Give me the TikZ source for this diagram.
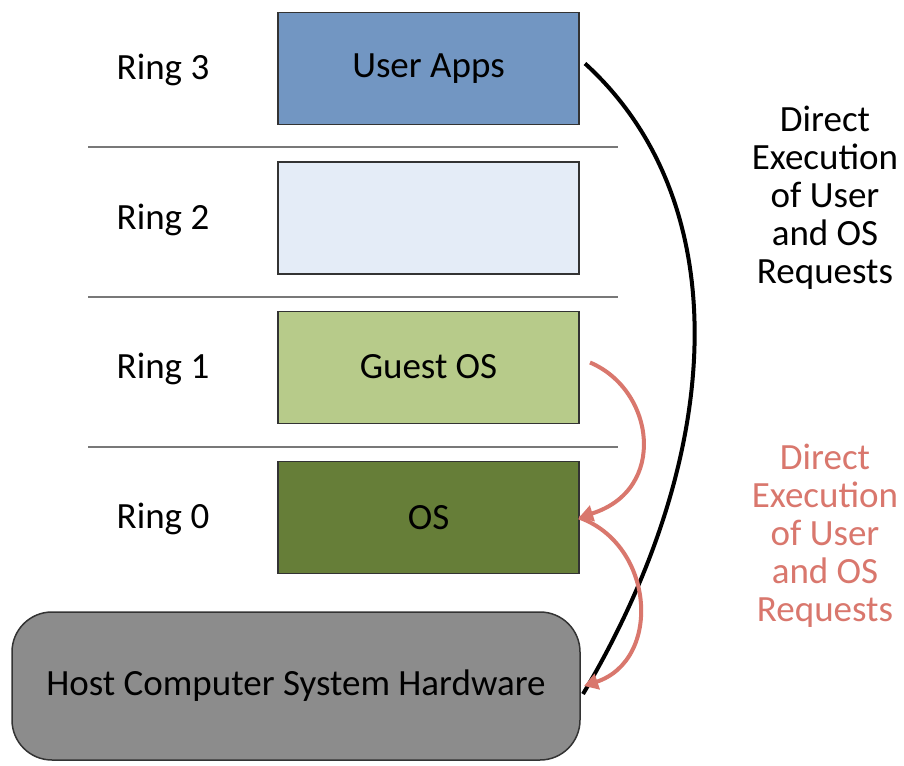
\documentclass[tikz,border=0pt]{standalone}
\usepackage{fontspec}
\setmainfont{Carlito}
\usetikzlibrary{arrows.meta}
\definecolor{appblue}{RGB}{114,150,194}
\definecolor{ringtwo}{RGB}{228,236,247}
\definecolor{guestgreen}{RGB}{183,203,138}
\definecolor{osgreen}{RGB}{102,126,56}
\definecolor{hwgray}{RGB}{140,140,140}
\definecolor{sepgray}{RGB}{120,120,120}
\definecolor{redarrow}{RGB}{217,119,109}
\tikzset{
  ringbox/.style={draw=black!80, line width=1.5pt, minimum width=301pt, minimum height=112pt, inner sep=0pt, outer sep=0pt},
  ringlabel/.style={inner sep=0pt},
  sepline/.style={draw=sepgray, line width=1.8pt},
  blackcurve/.style={draw=black, line width=4pt},
  redcurve/.style={draw=redarrow, line width=4pt, -{Triangle[length=14pt,width=16pt]}},
  sidetext/.style={align=center, inner sep=0pt, font=\fontsize{37}{38}\selectfont}
}
\begin{document}
\begin{tikzpicture}[x=1pt,y=-1pt,font=\fontsize{37}{38}\selectfont]
\useasboundingbox (0,0) rectangle (904,765);
\fill[white] (0,0) rectangle (904,765);
% separators
\draw[sepline] (88,147) -- (618,147);
\draw[sepline] (88,297) -- (618,297);
\draw[sepline] (88,447) -- (618,447);
% boxes
\node[ringbox, fill=appblue] (apps) at (428.5,68.5) {\raisebox{3pt}{User Apps}};
\node[ringbox, fill=ringtwo] (r2) at (428.5,218) {};
\node[ringbox, fill=guestgreen] (guest) at (428.5,367.5) {\raisebox{3pt}{Guest OS}};
\node[ringbox, fill=osgreen] (os) at (428.5,517.5) {OS};
\node[draw=black!80, line width=1.5pt, fill=hwgray, rounded corners=40pt, minimum width=568pt, minimum height=148pt, inner sep=0pt, outer sep=0pt] (hw) at (296,686) {Host Computer System Hardware};
% ring labels
\node[ringlabel] (l3) at (163,70) {Ring 3};
\node[ringlabel] (l2) at (163,220) {Ring 2};
\node[ringlabel] (l1) at (163,369) {Ring 1};
\node[ringlabel] (l0) at (163,519) {Ring 0};
% side texts
\node[sidetext] (blk) at (825,198) {Direct\\Execution\\of User\\and OS\\Requests};
\node[sidetext, text=redarrow] (red) at (825,536) {Direct\\Execution\\of User\\and OS\\Requests};
% curves
\coordinate (bs) at ([xshift=6pt,yshift=5pt]apps.east);
\coordinate (be) at ([xshift=3pt,yshift=-8pt]hw.east);
\draw[blackcurve] (bs) .. controls (735,200) and (728,450) .. (be);
\coordinate (r1s) at ([xshift=11pt,yshift=5pt]guest.east);
\draw[redcurve] (r1s) .. controls (655,390) and (668,490) .. (os.east);
\draw[redcurve] (os.east) .. controls (655,545) and (662,660) .. ([xshift=4pt]hw.east);
\end{tikzpicture}
\end{document}
